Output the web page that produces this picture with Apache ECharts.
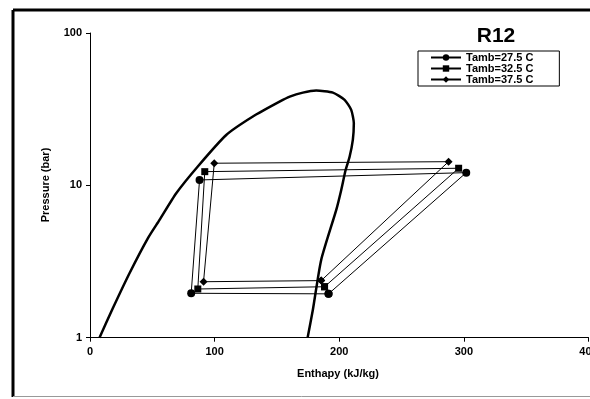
<!DOCTYPE html>
<html>
<head>
<meta charset="utf-8">
<script src="https://cdn.jsdelivr.net/npm/echarts@6/dist/echarts.min.js"></script>
<style>
html,body{margin:0;padding:0;background:#fff;}
#chart{width:590px;height:399px;}
</style>
</head>
<body>
<div id="chart"></div>
<script>
// Saturation dome (liquid side up to critical region, then vapor side down)
var domeH = [7.6, 18.3, 31.7, 46.4, 55.8, 69.2, 86.5, 109.3, 130.7, 152.1, 160.3, 170.8, 181.5, 194.9, 204.3, 209.6, 211.7, 210.9, 208.3, 205.1, 201.6, 197.6, 185.5, 178.8, 174.6];
var domeP = [1.0, 1.56, 2.65, 4.49, 5.93, 8.87, 13.3, 21.4, 28.3, 35.4, 38.2, 40.6, 41.9, 40.6, 36.4, 31.3, 25.6, 19.9, 15.4, 12.6, 9.33, 6.9, 3.24, 1.52, 1.0];

// Cycle points: evaporator out -> compressor out -> condenser out -> expansion out -> back
var cycle275H = [191.4, 301.9, 87.9, 81.2, 191.4];
var cycle275P = [1.94, 12.12, 10.85, 1.957, 1.94];
var cycle325H = [188.2, 295.8, 92.1, 86.5, 188.2];
var cycle325P = [2.16, 12.95, 12.3, 2.088, 2.16];
var cycle375H = [185.5, 287.7, 99.7, 91.1, 185.5];
var cycle375P = [2.37, 14.3, 13.97, 2.33, 2.37];

var seriesNames = ['Tamb=27.5 C', 'Tamb=32.5 C', 'Tamb=37.5 C'];
var xTicks = [0, 100, 200, 300, 400];
var yTicks = [1, 10, 100];

function pairs(h, p) { return h.map(function (v, i) { return [v, p[i]]; }); }

var FONT = '"Liberation Sans", Arial, sans-serif';
var chart = echarts.init(document.getElementById('chart'), null, { renderer: 'canvas' });

function cycleSeries(name, h, p, symbol, size) {
  return {
    name: name, type: 'line', data: pairs(h, p),
    symbol: symbol, symbolSize: size, showSymbol: true,
    lineStyle: { color: '#000', width: 1 },
    itemStyle: { color: '#000' },
    z: 3, animation: false
  };
}

chart.setOption({
  animation: false,
  backgroundColor: '#fff',
  grid: { left: 90, top: 33, right: 1.5, bottom: 61.3, containLabel: false, outerBoundsMode: 'none' },
  xAxis: {
    type: 'value', min: xTicks[0], max: xTicks[xTicks.length - 1], interval: 100,
    axisLine: { show: true, lineStyle: { color: '#000', width: 1 } },
    axisTick: { show: true, inside: false, length: 4, lineStyle: { color: '#000' } },
    splitLine: { show: false },
    axisLabel: { color: '#000', fontFamily: FONT, fontWeight: 'bold', fontSize: 11, margin: 9, hideOverlap: false }
  },
  yAxis: {
    type: 'log', logBase: 10, min: yTicks[0], max: yTicks[yTicks.length - 1],
    axisLine: { show: true, lineStyle: { color: '#000', width: 1 } },
    axisTick: { show: true, inside: false, length: 4, lineStyle: { color: '#000' } },
    minorTick: { show: false },
    splitLine: { show: false },
    axisLabel: { color: '#000', fontFamily: FONT, fontWeight: 'bold', fontSize: 11, margin: 8 }
  },
  legend: {
    data: seriesNames,
    orient: 'vertical', left: 418, top: 51,
    padding: [1, 26, 1, 12],
    itemGap: 0, itemWidth: 30, itemHeight: 8,
    borderColor: '#000', borderWidth: 1,
    backgroundColor: '#fff',
    textStyle: { color: '#000', fontFamily: FONT, fontWeight: 'bold', fontSize: 11, padding: [0, 0, 0, 0] }
  },
  graphic: [
    { type: 'line', shape: { x1: 13, y1: 10, x2: 590, y2: 10 }, style: { stroke: '#000', lineWidth: 3 }, silent: true },
    { type: 'line', shape: { x1: 13, y1: 10, x2: 13, y2: 397 }, style: { stroke: '#000', lineWidth: 3 }, silent: true },
    { type: 'line', shape: { x1: 13, y1: 396.5, x2: 590, y2: 396.5 }, style: { stroke: '#999', lineWidth: 1 }, silent: true },
    { type: 'text', style: { text: 'R12', x: 496, y: 36, fill: '#000', font: 'bold 21px ' + FONT, textAlign: 'center', textVerticalAlign: 'middle' }, silent: true },
    { type: 'text', style: { text: 'Pressure (bar)', x: 0, y: 0, fill: '#000', font: 'bold 11px ' + FONT, textAlign: 'center', textVerticalAlign: 'middle' }, x: 46, y: 185, rotation: Math.PI / 2, silent: true },
    { type: 'text', style: { text: 'Enthapy (kJ/kg)', x: 338, y: 374, fill: '#000', font: 'bold 11px ' + FONT, textAlign: 'center', textVerticalAlign: 'middle' }, silent: true }
  ],
  series: [
    {
      name: 'dome', type: 'line', data: pairs(domeH, domeP),
      symbol: 'none', smooth: 0.2,
      lineStyle: { color: '#000', width: 2.5 },
      z: 2, animation: false
    },
    cycleSeries(seriesNames[0], cycle275H, cycle275P, 'circle', 8),
    cycleSeries(seriesNames[1], cycle325H, cycle325P, 'rect', 7),
    cycleSeries(seriesNames[2], cycle375H, cycle375P, 'diamond', 8)
  ]
});
</script>
</body>
</html>
